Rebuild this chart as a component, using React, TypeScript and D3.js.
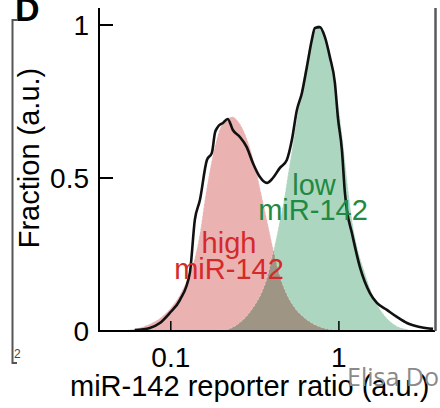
import { useMemo } from "react";
import * as d3 from "d3";

// high miR-142 population (red fill)
const highRatio = [0.0497, 0.0611, 0.075, 0.0861, 0.0986, 0.1132, 0.1298, 0.139, 0.149, 0.1594, 0.1755, 0.1905, 0.2097, 0.234, 0.247, 0.2683, 0.2954, 0.3206, 0.348, 0.3778, 0.4103, 0.4457, 0.49, 0.547, 0.6277, 0.75, 0.921, 1.086];
const highFrac = [0, 0.007, 0.023, 0.042, 0.072, 0.118, 0.19, 0.24, 0.32, 0.43, 0.56, 0.64, 0.69, 0.7, 0.69, 0.66, 0.6, 0.53, 0.44, 0.35, 0.26, 0.18, 0.12, 0.075, 0.042, 0.016, 0.003, 0];

// low miR-142 population (green fill)
const lowRatio = [0.183, 0.2097, 0.247, 0.283, 0.316, 0.348, 0.3778, 0.399, 0.4217, 0.4457, 0.4708, 0.4973, 0.525, 0.5546, 0.586, 0.6277, 0.672, 0.7099, 0.75, 0.7922, 0.8484, 0.9085, 0.973, 1.028, 1.086, 1.147, 1.2114, 1.2975, 1.409, 1.53, 1.683, 1.878, 2.154, 2.472, 2.835];
const lowFrac = [0, 0.003, 0.02, 0.049, 0.085, 0.127, 0.183, 0.239, 0.297, 0.363, 0.428, 0.51, 0.59, 0.673, 0.755, 0.853, 0.935, 0.984, 1.0, 0.99, 0.944, 0.87, 0.771, 0.673, 0.559, 0.444, 0.346, 0.265, 0.2, 0.14, 0.088, 0.049, 0.02, 0.007, 0];

// measured distribution (black line)
const allRatio = [0.0611, 0.075, 0.0861, 0.0986, 0.1132, 0.1298, 0.139, 0.149, 0.164, 0.1755, 0.183, 0.1905, 0.204, 0.218, 0.234, 0.2576, 0.283, 0.3078, 0.339, 0.3727, 0.4047, 0.4457, 0.49, 0.525, 0.5625, 0.6025, 0.645, 0.69, 0.72, 0.771, 0.825, 0.884, 0.947, 0.986, 1.042, 1.086, 1.116, 1.195, 1.334, 1.53, 1.683, 1.93, 2.214, 2.54, 3.034, 3.63];
const allFrac = [0.003, 0.01, 0.026, 0.059, 0.101, 0.19, 0.363, 0.428, 0.559, 0.582, 0.647, 0.667, 0.68, 0.693, 0.657, 0.634, 0.601, 0.549, 0.503, 0.484, 0.5, 0.533, 0.559, 0.624, 0.722, 0.778, 0.863, 0.951, 0.99, 0.993, 0.961, 0.895, 0.81, 0.699, 0.592, 0.451, 0.395, 0.32, 0.209, 0.124, 0.092, 0.069, 0.046, 0.026, 0.013, 0.007];

const xTicks = [0.1, 1];
const xTickLabels = ["0.1", "1"];
const yTicks = [0, 0.5, 1];
const yTickLabels = ["0", "0.5", "1"];

const font = "'Liberation Sans', Arial, Helvetica, sans-serif";

export default function App() {
  const x = d3.scaleLog().domain([0.0374, 3.73]).range([99, 435]);
  const y = d3.scaleLinear().domain([0, 1]).range([331, 25]);

  const paths = useMemo(() => {
    const area = d3
      .area<[number, number]>()
      .x((d) => x(d[0]))
      .y0(y(0))
      .y1((d) => y(d[1]))
      .curve(d3.curveMonotoneX);
    const line = d3
      .line<[number, number]>()
      .x((d) => x(d[0]))
      .y((d) => y(d[1]))
      .curve(d3.curveMonotoneX);
    const hi = highRatio.map((r, i) => [r, highFrac[i]] as [number, number]);
    const lo = lowRatio.map((r, i) => [r, lowFrac[i]] as [number, number]);
    const all = allRatio.map((r, i) => [r, allFrac[i]] as [number, number]);
    return {
      hiArea: area(hi),
      loArea: area(lo),
      hiLine: line(hi),
      loLine: line(lo),
      all: line(all),
    };
  }, []);

  return (
    <svg
      width={440}
      height={408}
      style={{ position: "absolute", left: 0, top: 0, background: "#fff" }}
    >
      {/* panel letter, cut at the top */}
      <text x={15} y={21} fontFamily={font} fontWeight="bold" fontSize={34}>
        D
      </text>

      {/* bracket at left edge */}
      <path d="M17,20 H12.5 V363 H17" fill="none" stroke="#555" strokeWidth={2} />
      <text x={14} y={358} fontFamily={font} fontSize={12} fill="#444">
        2
      </text>

      {/* fills */}
      <g style={{ isolation: "isolate" }}>
        <path d={paths.loArea ?? ""} fill="#acd6bf" />
        <path d={paths.hiArea ?? ""} fill="#ebb2b2" style={{ mixBlendMode: "multiply" }} />
      </g>
      <path d={paths.hiLine ?? ""} fill="none" stroke="#fff" strokeOpacity={0.5} strokeWidth={0.8} strokeDasharray="2,2" />
      <path d={paths.loLine ?? ""} fill="none" stroke="#fff" strokeOpacity={0.5} strokeWidth={0.8} strokeDasharray="2,2" />

      {/* measured curve */}
      <path d={paths.all ?? ""} fill="none" stroke="#111" strokeWidth={2.6} strokeLinejoin="round" />

      {/* population labels */}
      <g fontFamily={font} fontSize={29} textAnchor="middle" fill="#d42a2a">
        <text x={229} y={253}>high</text>
        <text x={229} y={279}>miR-142</text>
      </g>
      <g fontFamily={font} fontSize={29} textAnchor="middle" fill="#1e8a43">
        <text x={314} y={195}>low</text>
        <text x={313} y={220}>miR-142</text>
      </g>

      {/* axes */}
      <line x1={99} x2={99} y1={8} y2={332} stroke="#000" strokeWidth={2} />
      <line x1={98} x2={435} y1={331} y2={331} stroke="#000" strokeWidth={2.2} />
      {yTicks.map((t, i) => (
        <g key={t}>
          <line x1={99} x2={113} y1={y(t)} y2={y(t)} stroke="#000" strokeWidth={2} />
          <text
            x={89}
            y={y(t) + 10}
            textAnchor="end"
            fontFamily={font}
            fontSize={28}
          >
            {yTickLabels[i]}
          </text>
        </g>
      ))}
      {xTicks.map((t, i) => (
        <g key={t}>
          <line x1={x(t)} x2={x(t)} y1={331} y2={321} stroke="#000" strokeWidth={1.5} />
          <text
            x={x(t)}
            y={367}
            textAnchor="middle"
            fontFamily={font}
            fontSize={28}
          >
            {xTickLabels[i]}
          </text>
        </g>
      ))}
      <text
        x={70}
        y={396}
        fontFamily={font}
        fontSize={29}
      >
        miR-142 reporter ratio (a.u.)
      </text>
      <text
        transform="translate(39,158) rotate(-90)"
        textAnchor="middle"
        fontFamily={font}
        fontSize={29}
      >
        Fraction (a.u.)
      </text>

      {/* right frame edge */}
      <line x1={435.5} x2={435.5} y1={8} y2={331} stroke="#5a5a5a" strokeWidth={2.5} />

      {/* overlay caption */}
      <text x={347} y={386} fontFamily="'Open Sans', sans-serif" fontSize={25} fill="#8a8a8a">
        Elisa Do
      </text>
    </svg>
  );
}
